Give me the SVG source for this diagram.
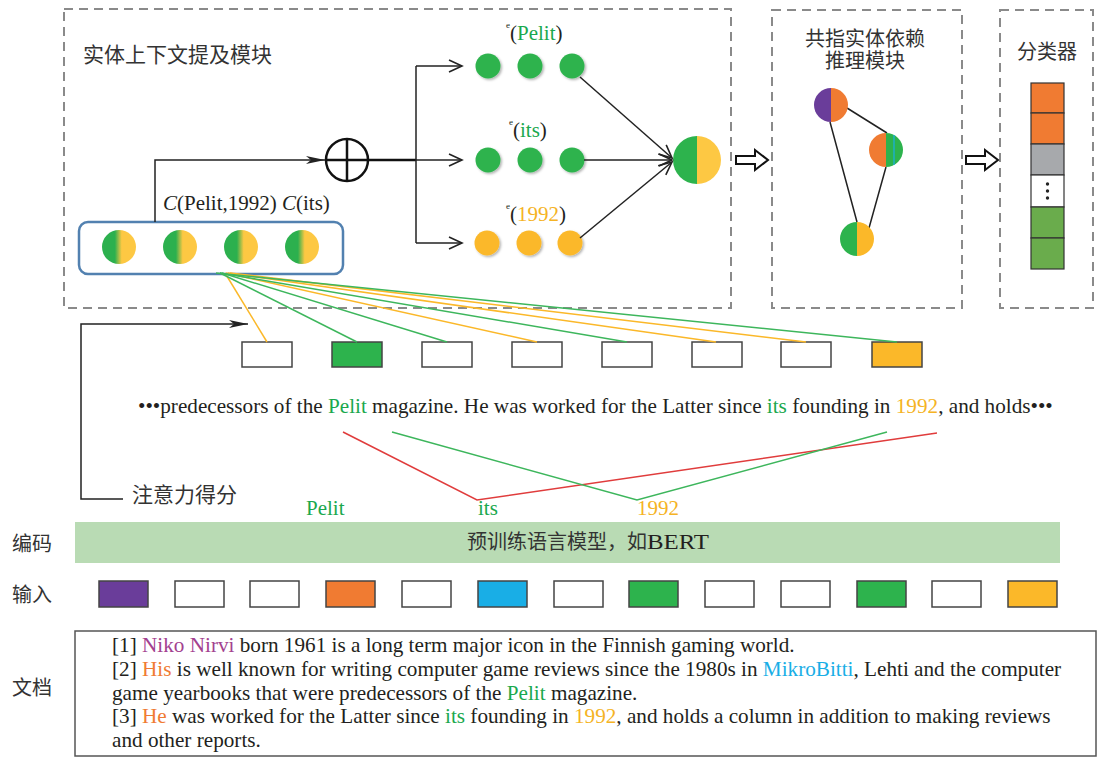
<svg xmlns="http://www.w3.org/2000/svg" width="1103" height="758" viewBox="0 0 1103 758">
<defs>
<style>
.dash{fill:none;stroke:#8a8a8a;stroke-width:2;stroke-dasharray:9 6}
.cjk{font-family:"Noto Sans CJK SC","Noto Sans",sans-serif;fill:#333}
.ser{font-family:"Liberation Serif","Times New Roman",serif;fill:#231f20}
.g{fill:#1aa84e}.y{fill:#f5b324}.o{fill:#f07b32}.m{fill:#a3418f}.b{fill:#19aee6}.k{fill:#231f20}
.ln{stroke:#222;stroke-width:1.5;fill:none}
.gl{stroke:#3db65c;stroke-width:1.5;fill:none}
.ol{stroke:#fbb829;stroke-width:1.5;fill:none}
.rl{stroke:#e03c3c;stroke-width:1.5;fill:none}
.box{stroke:#444;stroke-width:1.5}
.dg{fill:#2db34d;filter:url(#sh)}
.dy{fill:#fbb829;filter:url(#sh)}
</style>
<linearGradient id="gy" x1="0" x2="1" y1="0" y2="0">
<stop offset="0" stop-color="#2cb04e"/><stop offset="0.38" stop-color="#2cb04e"/><stop offset="0.58" stop-color="#fdc843"/><stop offset="1" stop-color="#fdc843"/>
</linearGradient>
<filter id="sh" x="-30%" y="-30%" width="170%" height="170%"><feDropShadow dx="1.5" dy="1.5" stdDeviation="1.2" flood-color="#000" flood-opacity="0.3"/></filter>
<marker id="open" markerUnits="userSpaceOnUse" markerWidth="20" markerHeight="20" refX="14" refY="7" orient="auto"><path d="M1,1 L14,7 L1,13" fill="none" stroke="#222" stroke-width="1.6"/></marker>
<marker id="sharp" markerUnits="userSpaceOnUse" markerWidth="22" markerHeight="10" refX="19" refY="4" orient="auto"><path d="M0,0 L19,4 L0,8 L5,4 Z" fill="#222"/></marker>
</defs>

<rect width="1103" height="758" fill="#fff"/>

<!-- Module 1 -->
<g id="mention-module">
<rect class="dash" x="64" y="9" width="667" height="299"/>
<text class="cjk" x="83" y="62" font-size="21">实体上下文提及模块</text>
<rect x="79" y="222" width="264" height="52" rx="9" fill="#fff" stroke="#5281b0" stroke-width="2.5"/>
<circle cx="119" cy="247" r="17" fill="url(#gy)"/>
<circle cx="180" cy="247" r="17" fill="url(#gy)"/>
<circle cx="241" cy="247" r="17" fill="url(#gy)"/>
<circle cx="302" cy="247" r="17" fill="url(#gy)"/>
<text class="ser" x="163" y="210" font-size="21"><tspan font-style="italic">C</tspan>(Pelit,1992) <tspan font-style="italic">C</tspan>(its)</text>
</g>

<g id="oplus">
<circle cx="347" cy="160" r="21" fill="#fff" stroke="#111" stroke-width="2.5"/>
<path d="M326,160 H368 M347,139 V181" stroke="#111" stroke-width="2.5"/>
</g>

<g id="row-pelit">
<text class="ser" x="506" y="40" font-size="21"><tspan font-size="9" dy="-12">e</tspan><tspan dy="12">(</tspan><tspan class="g">Pelit</tspan>)</text>
<circle class="dg" cx="488" cy="66" r="12.5"/>
<circle class="dg" cx="530" cy="66" r="12.5"/>
<circle class="dg" cx="572" cy="66" r="12.5"/>
</g>
<g id="row-its">
<text class="ser" x="509" y="137" font-size="21"><tspan font-size="9" dy="-12">e</tspan><tspan dy="12">(</tspan><tspan class="g">its</tspan>)</text>
<circle class="dg" cx="488" cy="160" r="12.5"/>
<circle class="dg" cx="530" cy="160" r="12.5"/>
<circle class="dg" cx="572" cy="160" r="12.5"/>
</g>
<g id="row-1992">
<text class="ser" x="506" y="221" font-size="21"><tspan font-size="9" dy="-12">e</tspan><tspan dy="12">(</tspan><tspan class="y">1992</tspan>)</text>
<circle class="dy" cx="487" cy="243" r="12.5"/>
<circle class="dy" cx="529" cy="243" r="12.5"/>
<circle class="dy" cx="570" cy="243" r="12.5"/>
</g>
<g id="merged">
<path d="M697,136 A24,24 0 0,0 697,184 Z" fill="#2db34d"/>
<path d="M697,136 A24,24 0 0,1 697,184 Z" fill="#fdc843"/>
</g>

<!-- Module 2 -->
<g id="coref-module">
<rect class="dash" x="772" y="10" width="190" height="298"/>
<text class="cjk" font-size="20" text-anchor="middle"><tspan x="865" y="46">共指实体依赖</tspan><tspan x="865" y="68">推理模块</tspan></text>
<path class="ln" d="M847,108 L887,133 M830,122 L857,222 M886,167 L869,228" stroke-width="1.8"/>
<path d="M831,88 A17,17 0 0,0 831,122 Z" fill="#6a3d9a"/>
<path d="M831,88 A17,17 0 0,1 831,122 Z" fill="#f07b32"/>
<path d="M886,133 A17,17 0 0,0 886,167 Z" fill="#f07b32"/>
<path d="M886,133 A17,17 0 0,1 886,167 Z" fill="#2db34d"/>
<line x1="894" y1="135" x2="894" y2="165" stroke="#19aee6" stroke-width="1.2"/>
<path d="M857,222 A17,17 0 0,0 857,256 Z" fill="#2db34d"/>
<path d="M857,222 A17,17 0 0,1 857,256 Z" fill="#fbb829"/>
</g>

<!-- Module 3 -->
<g id="classifier">
<rect class="dash" x="1000" y="10" width="93" height="298"/>
<text class="cjk" x="1047" y="59" font-size="20" text-anchor="middle">分类器</text>
<g stroke="#333" stroke-width="1.2">
<rect x="1031" y="83" width="33" height="30" fill="#f07b32"/>
<rect x="1031" y="113" width="33" height="31" fill="#f07b32"/>
<rect x="1031" y="144" width="33" height="31" fill="#a7a9ac"/>
<rect x="1031" y="175" width="33" height="32" fill="#fff"/>
<rect x="1031" y="207" width="33" height="31" fill="#6aac4c"/>
<rect x="1031" y="238" width="33" height="31" fill="#6aac4c"/>
</g>
<g fill="#222"><circle cx="1047.5" cy="184" r="1.7"/><circle cx="1047.5" cy="191" r="1.7"/><circle cx="1047.5" cy="198" r="1.7"/></g>
</g>

<!-- attention tokens -->
<g id="attn-tokens" class="box">
<rect x="242" y="342" width="50" height="25" fill="#fff"/>
<rect x="332" y="342" width="50" height="25" fill="#2db34d"/>
<rect x="422" y="342" width="50" height="25" fill="#fff"/>
<rect x="512" y="342" width="50" height="25" fill="#fff"/>
<rect x="602" y="342" width="50" height="25" fill="#fff"/>
<rect x="692" y="342" width="50" height="25" fill="#fff"/>
<rect x="781" y="342" width="50" height="25" fill="#fff"/>
<rect x="872" y="342" width="50" height="25" fill="#fbb829"/>
</g>

<g id="sentence">
<text class="ser" x="138" y="413" font-size="21.2">•••predecessors of the <tspan class="g">Pelit</tspan> magazine. He was worked for the Latter since <tspan class="g">its</tspan> founding in <tspan class="y">1992</tspan>, and holds•••</text>
</g>

<g id="attn-label">
<text class="cjk" x="132" y="502" font-size="21">注意力得分</text>
</g>

<g id="entity-labels" font-family="Liberation Serif, serif" font-size="21">
<text x="306" y="515" class="g">Pelit</text>
<text x="478" y="515" class="g">its</text>
<text x="637" y="515" class="y">1992</text>
</g>

<!-- encoder -->
<g id="encoder">
<text class="cjk" x="12" y="551" font-size="20">编码</text>
<rect x="75" y="522" width="985" height="41" fill="#b9dbb4"/>
<text class="cjk" x="467" y="549" font-size="20">预训练语言模型，如</text>
<text class="ser" x="647" y="549" font-size="21" textLength="62" lengthAdjust="spacingAndGlyphs">BERT</text>
</g>

<!-- input -->
<g id="input">
<text class="cjk" x="12" y="602" font-size="20">输入</text>
<g class="box">
<rect x="99" y="581" width="49" height="26" fill="#6a3d9a"/>
<rect x="175" y="581" width="49" height="26" fill="#fff"/>
<rect x="250" y="581" width="49" height="26" fill="#fff"/>
<rect x="326" y="581" width="49" height="26" fill="#f07b32"/>
<rect x="402" y="581" width="49" height="26" fill="#fff"/>
<rect x="478" y="581" width="49" height="26" fill="#19aee6"/>
<rect x="554" y="581" width="49" height="26" fill="#fff"/>
<rect x="629" y="581" width="49" height="26" fill="#2db34d"/>
<rect x="705" y="581" width="49" height="26" fill="#fff"/>
<rect x="781" y="581" width="49" height="26" fill="#fff"/>
<rect x="857" y="581" width="49" height="26" fill="#2db34d"/>
<rect x="932" y="581" width="49" height="26" fill="#fff"/>
<rect x="1008" y="581" width="49" height="26" fill="#fbb829"/>
</g>
</g>

<!-- document -->
<g id="document">
<text class="cjk" x="12" y="695" font-size="20">文档</text>
<rect x="75" y="631" width="1021" height="125" fill="#fff" stroke="#555" stroke-width="1.5"/>
<g class="ser" font-size="21.2">
<text x="112" y="652">[1] <tspan class="m">Niko Nirvi</tspan> born 1961 is a long term major icon in the Finnish gaming world.</text>
<text x="112" y="676">[2] <tspan class="o">His</tspan> is well known for writing computer game reviews since the 1980s in <tspan class="b">MikroBitti</tspan>, Lehti and the computer</text>
<text x="112" y="700">game yearbooks that were predecessors of the <tspan class="g">Pelit</tspan> magazine.</text>
<text x="112" y="723">[3] <tspan class="o">He</tspan> was worked for the Latter since <tspan class="g">its</tspan> founding in <tspan class="y">1992</tspan>, and holds a column in addition to making reviews</text>
<text x="112" y="747">and other reports.</text>
</g>
</g>

<!-- connectors -->
<g id="connectors">
<path class="ln" d="M155,222 V160 H325" marker-end="url(#sharp)"/>
<path d="M368,160 H416" stroke="#111" stroke-width="2.5"/>
<path class="ln" d="M416,66 V243"/>
<path class="ln" d="M416,66 H462" marker-end="url(#open)"/>
<path class="ln" d="M416,160 H462" marker-end="url(#open)"/>
<path class="ln" d="M416,243 H462" marker-end="url(#open)"/>
<path class="ln" d="M580,77 L672,158" marker-end="url(#open)"/>
<path class="ln" d="M584,160 L672,160" marker-end="url(#open)"/>
<path class="ln" d="M580,238 L672,162" marker-end="url(#open)"/>
<polygon points="736,156 755,156 755,150 768,160 755,170 755,164 736,164" fill="#fff" stroke="#111" stroke-width="2"/>
<polygon points="966,156 985,156 985,150 998,160 985,170 985,164 966,164" fill="#fff" stroke="#111" stroke-width="2"/>
<path class="ol" d="M225,273 L267,342"/>
<path class="gl" d="M220,273 L357,342"/>
<path class="gl" d="M222,273 L447,342"/>
<path class="ol" d="M226,273 L537,342"/>
<path class="gl" d="M220,273 L627,342"/>
<path class="ol" d="M228,273 L716,342"/>
<path class="ol" d="M230,273 L806,342"/>
<path class="gl" d="M216,273 L897,342"/>
<path class="ln" d="M123,499 H81 V324 H248" stroke="#444" marker-end="url(#sharp)"/>
<path class="rl" d="M343,432 L477,500 L937,433"/>
<path class="gl" d="M392,432 L637,500 L887,432"/>
</g>
</svg>
